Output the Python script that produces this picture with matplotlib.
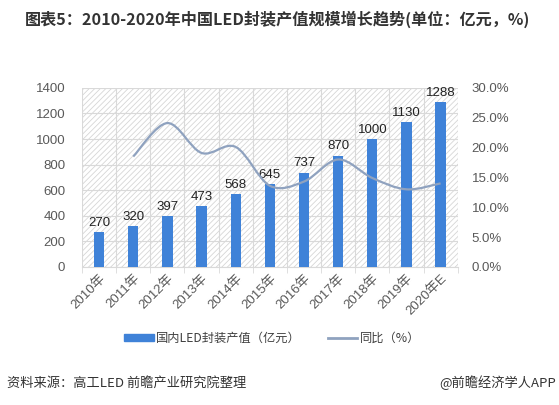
import matplotlib
matplotlib.use('Agg')
import matplotlib.pyplot as plt
import numpy as np
from matplotlib.path import Path
from matplotlib.patches import PathPatch, Rectangle
from matplotlib.lines import Line2D

plt.rcParams['font.family'] = ['Liberation Sans', 'Noto Sans CJK SC', 'DejaVu Sans']
plt.rcParams['hatch.color'] = '#d6d6d6'
plt.rcParams['hatch.linewidth'] = 0.6
cjk = ['Noto Sans CJK SC', 'DejaVu Sans']

years = ['2010年', '2011年', '2012年', '2013年', '2014年', '2015年',
         '2016年', '2017年', '2018年', '2019年', '2020年E']
values = [270, 320, 397, 473, 568, 645, 737, 870, 1000, 1130, 1288]
growth = [18.5, 24.1, 19.1, 20.1, 13.6, 14.3, 18.0, 14.9, 13.0, 14.0]  # 2011起

bar_color = '#3f82d8'
line_color = '#8fa2bf'
tick_color = '#595959'

fig = plt.figure(figsize=(5.59, 4.05), dpi=100)
ax = fig.add_axes([0.1467, 0.341, 0.672, 0.442])
ax2 = ax.twinx()

x = np.arange(len(years))

# 斜线底纹背景
ax.add_patch(Rectangle((0, 0), 1, 1, transform=ax.transAxes, facecolor='white',
                       edgecolor='#d6d6d6', hatch='//////', linewidth=0, zorder=0))

ax.bar(x, values, width=0.3, color=bar_color, zorder=3)
for xi, v in zip(x, values):
    ax.text(xi, v + 25, str(v), ha='center', va='bottom', fontsize=9.5, color='#222222', zorder=4)

ax.set_xlim(-0.5, len(years) - 0.5)
ax.set_ylim(0, 1400)
ax.set_yticks(np.arange(0, 1401, 200))
ax.set_xticks(x)
ax.set_xticklabels(years, rotation=45, ha='right', rotation_mode='anchor')
ax.set_xticks(np.arange(-0.5, len(years), 1), minor=True)
ax.grid(True, axis='y', color='#d9d9d9', linewidth=0.8, zorder=1)
ax.grid(True, axis='x', which='minor', color='#d9d9d9', linewidth=0.8, zorder=1)
ax.tick_params(axis='both', which='major', length=0, colors=tick_color, labelsize=9.5)
ax.tick_params(axis='x', which='minor', length=4, color='#d9d9d9')
ax.tick_params(axis='y', pad=12)
for s in ax.spines.values():
    s.set_visible(False)
ax.spines['bottom'].set_visible(True)
ax.spines['bottom'].set_color('#d9d9d9')

# 同比曲线（平滑）
gx = x[1:].astype(float)
gy = np.array(growth)
verts = [(gx[0], gy[0])]
codes = [Path.MOVETO]
for i in range(len(gx) - 1):
    p0 = (gx[max(i - 1, 0)], gy[max(i - 1, 0)])
    p1 = (gx[i], gy[i])
    p2 = (gx[i + 1], gy[i + 1])
    p3 = (gx[min(i + 2, len(gx) - 1)], gy[min(i + 2, len(gx) - 1)])
    c1 = (p1[0] + (p2[0] - p0[0]) / 6, p1[1] + (p2[1] - p0[1]) / 6)
    c2 = (p2[0] - (p3[0] - p1[0]) / 6, p2[1] - (p3[1] - p1[1]) / 6)
    verts += [c1, c2, p2]
    codes += [Path.CURVE4] * 3
ax2.add_patch(PathPatch(Path(verts, codes), facecolor='none', edgecolor=line_color,
                        linewidth=1.6, zorder=5))
ax2.set_ylim(0, 30)
ax2.set_yticks(np.arange(0, 30.1, 5))
ax2.set_yticklabels([f'{t:.1f}%' for t in np.arange(0, 30.1, 5)])
ax2.tick_params(axis='y', length=0, colors=tick_color, labelsize=9.5, pad=10)
for s in ax2.spines.values():
    s.set_visible(False)

handles = [Rectangle((0, 0), 1, 1, color=bar_color),
           Line2D([0], [0], color=line_color, linewidth=2)]
fig.legend(handles, ['国内LED封装产值（亿元）', '同比（%）'], loc='center',
           bbox_to_anchor=(0.487, 0.165), ncol=2, frameon=False,
           prop={'family': cjk, 'size': 8.8},
           handlelength=2.4, handleheight=0.5, handletextpad=0.2, columnspacing=2.2,
           labelcolor='#404040')

fig.text(0.045, 0.953, '图表5：2010-2020年中国LED封装产值规模增长趋势(单位：亿元，%)',
         fontsize=11.6, fontweight='bold', color='#333333', va='center', family=cjk)
fig.text(0.012, 0.054, '资料来源：高工LED 前瞻产业研究院整理', fontsize=9.5, color='#333333',
         va='center', family=cjk)
fig.text(0.995, 0.054, '@前瞻经济学人APP', fontsize=9.5, color='#333333', va='center',
         ha='right', family=cjk)

fig.savefig('out.png', dpi=100)
